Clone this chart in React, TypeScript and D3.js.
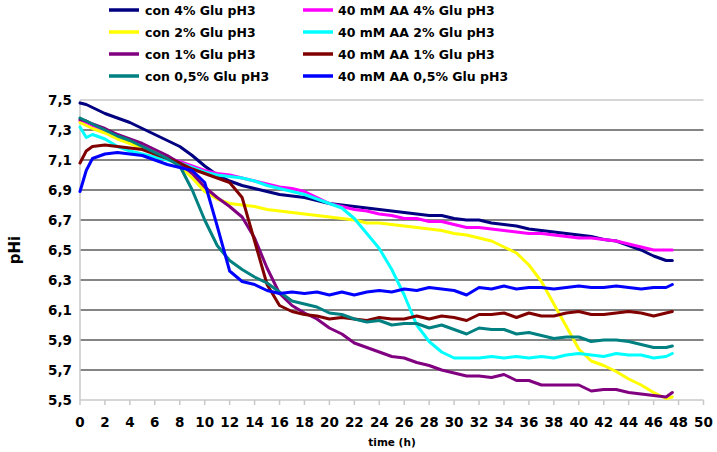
import React from "react";
import * as d3 from "d3";

const times = [0, 0.5, 1, 2, 3, 4, 5, 6, 7, 8, 9, 10, 11, 12, 13, 14, 15, 16, 17, 18, 19, 20, 21, 22, 23, 24, 25, 26, 27, 28, 29, 30, 31, 32, 33, 34, 35, 36, 37, 38, 39, 40, 41, 42, 43, 44, 45, 46, 47, 47.5];

const con4 = [7.48, 7.47, 7.45, 7.41, 7.38, 7.35, 7.31, 7.27, 7.23, 7.19, 7.13, 7.06, 7.0, 6.96, 6.93, 6.91, 6.89, 6.87, 6.86, 6.85, 6.83, 6.81, 6.8, 6.79, 6.78, 6.77, 6.76, 6.75, 6.74, 6.73, 6.73, 6.71, 6.7, 6.7, 6.68, 6.67, 6.66, 6.64, 6.63, 6.62, 6.61, 6.6, 6.59, 6.57, 6.56, 6.53, 6.5, 6.46, 6.43, 6.43];
const aa4 = [7.36, 7.35, 7.33, 7.3, 7.27, 7.23, 7.19, 7.15, 7.11, 7.09, 7.06, 7.03, 7.01, 7.0, 6.98, 6.96, 6.94, 6.92, 6.91, 6.89, 6.85, 6.81, 6.79, 6.77, 6.76, 6.74, 6.73, 6.71, 6.71, 6.69, 6.69, 6.67, 6.65, 6.65, 6.64, 6.63, 6.62, 6.61, 6.61, 6.6, 6.59, 6.58, 6.58, 6.57, 6.56, 6.54, 6.52, 6.5, 6.5, 6.5];
const con2 = [7.35, 7.33, 7.31, 7.28, 7.24, 7.21, 7.18, 7.15, 7.11, 7.06, 6.98, 6.89, 6.84, 6.81, 6.8, 6.79, 6.77, 6.76, 6.75, 6.74, 6.73, 6.72, 6.71, 6.7, 6.68, 6.68, 6.67, 6.66, 6.65, 6.64, 6.63, 6.61, 6.6, 6.58, 6.56, 6.52, 6.48, 6.4, 6.29, 6.14, 5.99, 5.84, 5.76, 5.73, 5.69, 5.64, 5.6, 5.55, 5.51, 5.52];
const aa2 = [7.32, 7.25, 7.27, 7.24, 7.19, 7.16, 7.14, 7.12, 7.1, 7.08, 7.05, 7.02, 7.0, 6.99, 6.98, 6.96, 6.93, 6.91, 6.89, 6.87, 6.84, 6.81, 6.78, 6.71, 6.61, 6.51, 6.37, 6.2, 6.0, 5.89, 5.82, 5.78, 5.78, 5.78, 5.79, 5.78, 5.79, 5.78, 5.79, 5.78, 5.8, 5.81, 5.8, 5.79, 5.81, 5.8, 5.8, 5.78, 5.79, 5.81];
const con1 = [7.37, 7.36, 7.34, 7.31, 7.27, 7.24, 7.21, 7.17, 7.13, 7.08, 7.01, 6.92, 6.85, 6.79, 6.72, 6.58, 6.38, 6.21, 6.13, 6.08, 6.04, 5.98, 5.94, 5.88, 5.85, 5.82, 5.79, 5.78, 5.75, 5.73, 5.7, 5.68, 5.66, 5.66, 5.65, 5.67, 5.63, 5.63, 5.6, 5.6, 5.6, 5.6, 5.56, 5.57, 5.57, 5.55, 5.54, 5.53, 5.52, 5.55];
const aa1 = [7.08, 7.16, 7.19, 7.2, 7.19, 7.18, 7.17, 7.14, 7.11, 7.08, 7.04, 7.01, 6.98, 6.95, 6.85, 6.56, 6.27, 6.13, 6.09, 6.07, 6.06, 6.04, 6.05, 6.04, 6.03, 6.05, 6.04, 6.04, 6.06, 6.04, 6.06, 6.05, 6.03, 6.07, 6.07, 6.08, 6.05, 6.08, 6.06, 6.06, 6.08, 6.09, 6.07, 6.07, 6.08, 6.09, 6.08, 6.06, 6.08, 6.09];
const con05 = [7.38, 7.36, 7.34, 7.3, 7.26, 7.23, 7.19, 7.15, 7.11, 7.06, 6.9, 6.7, 6.53, 6.43, 6.37, 6.32, 6.28, 6.22, 6.16, 6.14, 6.12, 6.08, 6.07, 6.04, 6.02, 6.03, 6.0, 6.01, 6.01, 5.98, 6.0, 5.97, 5.94, 5.98, 5.97, 5.97, 5.94, 5.95, 5.93, 5.91, 5.92, 5.92, 5.89, 5.9, 5.9, 5.89, 5.87, 5.85, 5.85, 5.86];
const aa05 = [6.89, 7.03, 7.11, 7.14, 7.15, 7.14, 7.13, 7.1, 7.07, 7.05, 7.03, 6.95, 6.66, 6.36, 6.29, 6.27, 6.23, 6.21, 6.22, 6.21, 6.22, 6.2, 6.22, 6.2, 6.22, 6.23, 6.22, 6.24, 6.23, 6.25, 6.24, 6.23, 6.2, 6.25, 6.24, 6.26, 6.24, 6.25, 6.25, 6.24, 6.25, 6.26, 6.25, 6.25, 6.26, 6.25, 6.24, 6.25, 6.25, 6.27];

const seriesNames = ["con 4% Glu pH3", "40 mM AA 4% Glu pH3", "con 2% Glu pH3", "40 mM AA 2% Glu pH3", "con 1% Glu pH3", "40 mM AA 1% Glu pH3", "con 0,5% Glu pH3", "40 mM AA 0,5% Glu pH3"];
const seriesValues = [con4, aa4, con2, aa2, con1, aa1, con05, aa05];
const seriesColors = ["#000080", "#ff00ff", "#ffff00", "#00ffff", "#800080", "#800000", "#008080", "#0000ff"];

const xTicks = d3.range(0, 51, 2);
const yTicks = [5.5, 5.7, 5.9, 6.1, 6.3, 6.5, 6.7, 6.9, 7.1, 7.3, 7.5];

const W = 717;
const H = 452;
const FONT = "'DejaVu Sans', Verdana, sans-serif";

export default function App() {
  const x = d3.scaleLinear().domain([0, 50]).range([80, 703.5]);
  const y = d3.scaleLinear().domain([5.5, 7.5]).range([400, 100]);
  const line = d3
    .line<number>()
    .x((_, i) => x(times[i]))
    .y((d) => y(d))
    .curve(d3.curveLinear);
  const fmt = (v: number) => v.toFixed(1).replace(".", ",");

  return (
    <svg width={W} height={H} style={{ position: "absolute", left: 0, top: 0, background: "#fff" }}>
      {/* gridlines */}
      {yTicks.map((t) => (
        <line
          key={"g" + t}
          x1={x(0)}
          x2={x(50)}
          y1={y(t)}
          y2={y(t)}
          stroke={t === 5.5 || t === 7.5 ? "#c8c8c8" : "#858585"}
          strokeWidth={t === 5.5 || t === 7.5 ? 1.5 : 1.8}
        />
      ))}
      <line x1={x(0)} x2={x(0)} y1={y(7.5)} y2={y(5.5)} stroke="#c8c8c8" strokeWidth={1.5} />
      {xTicks.map((t) => (
        <line key={"t" + t} x1={x(t)} x2={x(t)} y1={y(5.5)} y2={y(5.5) + 5} stroke="#c8c8c8" strokeWidth={1.5} />
      ))}
      {/* tick labels */}
      {yTicks.map((t) => (
        <text
          key={"yl" + t}
          x={72}
          y={y(t)}
          textAnchor="end"
          dominantBaseline="central"
          fontFamily={FONT}
          fontWeight="bold"
          fontSize={13.5}
          fill="#000"
        >
          {fmt(t)}
        </text>
      ))}
      {xTicks.map((t) => (
        <text
          key={"xl" + t}
          x={x(t)}
          y={422}
          textAnchor="middle"
          dominantBaseline="central"
          fontFamily={FONT}
          fontWeight="bold"
          fontSize={13.5}
          fill="#000"
        >
          {t}
        </text>
      ))}
      <text
        x={392}
        y={442}
        textAnchor="middle"
        dominantBaseline="central"
        fontFamily={FONT}
        fontWeight="bold"
        fontSize={10.5}
        fill="#000"
      >
        time (h)
      </text>
      <text
        transform="translate(15,250) rotate(-90)"
        textAnchor="middle"
        dominantBaseline="central"
        fontFamily={FONT}
        fontWeight="bold"
        fontSize={15}
        fill="#000"
      >
        pHi
      </text>
      {/* series */}
      {seriesValues.map((vals, i) => (
        <path
          key={"s" + i}
          d={line(vals) || ""}
          fill="none"
          stroke={seriesColors[i]}
          strokeWidth={3}
          strokeLinejoin="round"
          strokeLinecap="round"
        />
      ))}
      {/* legend */}
      {seriesNames.map((name, i) => {
        const col = i % 2;
        const row = Math.floor(i / 2);
        const lx = col === 0 ? 109 : 303;
        const ly = 10 + row * 22;
        return (
          <g key={"l" + i}>
            <line x1={lx} x2={lx + 30} y1={ly} y2={ly} stroke={seriesColors[i]} strokeWidth={3.5} />
            <text
              x={lx + (col === 0 ? 36 : 35)}
              y={ly}
              dominantBaseline="central"
              fontFamily={FONT}
              fontWeight="bold"
              fontSize={12.5}
              fill="#000"
            >
              {name}
            </text>
          </g>
        );
      })}
    </svg>
  );
}
